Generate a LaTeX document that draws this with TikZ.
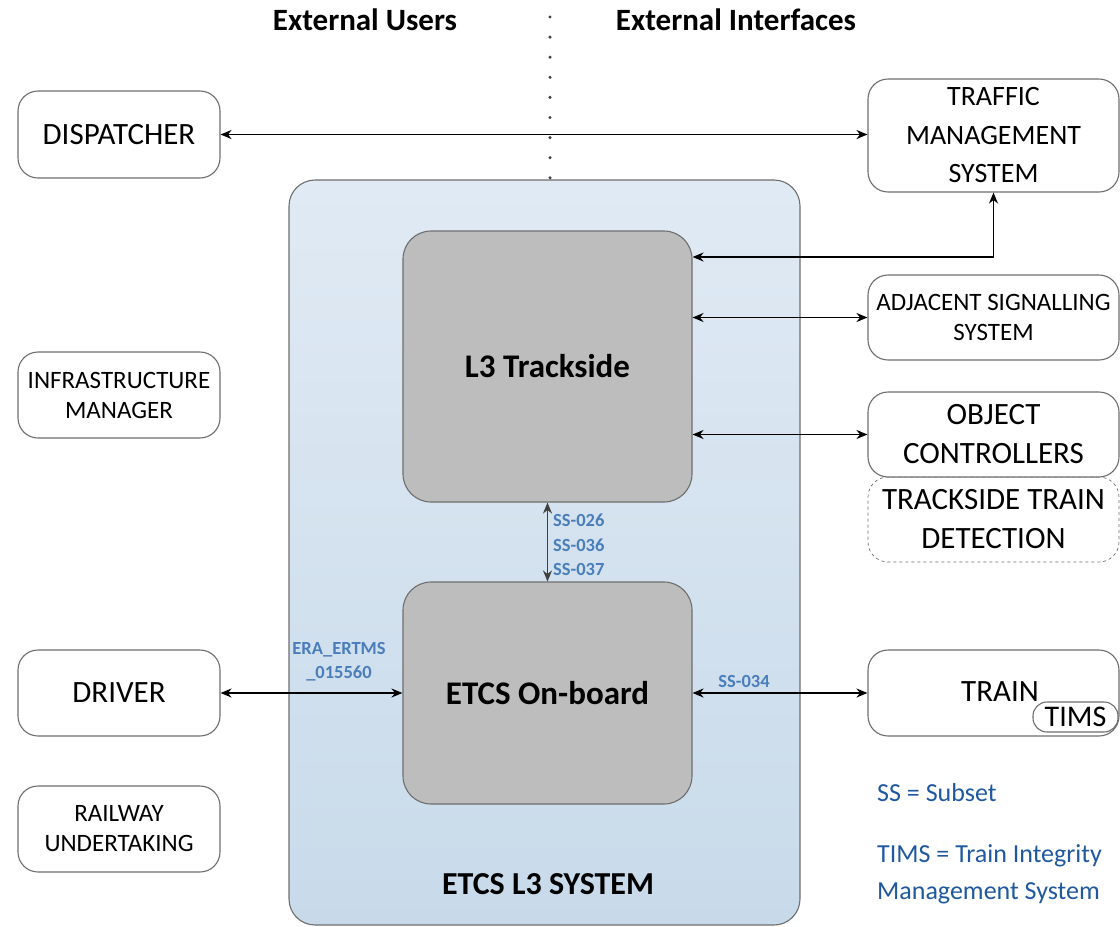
\documentclass[tikz,border=0pt]{standalone}
\usepackage{fontspec}
\setmainfont{Carlito}
\usetikzlibrary{arrows.meta}
\definecolor{lbl}{RGB}{74,126,187}
\definecolor{leg}{RGB}{31,88,158}
\definecolor{edge}{RGB}{110,110,110}
\definecolor{sysTop}{RGB}{224,234,244}
\definecolor{sysBot}{RGB}{200,218,234}
\definecolor{blk}{RGB}{189,189,189}
\tikzset{
  extbox/.style={draw=edge, line width=1.1pt, rounded corners=20pt, fill=white, align=center, inner sep=0pt},
  ddbox/.style={draw=edge, line width=0.7pt, dashed, rounded corners=20pt, align=center, inner sep=0pt},
  blkbox/.style={draw=edge, line width=1.1pt, rounded corners=28pt, fill=blk, align=center, inner sep=0pt, font=\fontsize{33}{38}\selectfont\bfseries},
  biarr/.style={line width=1.7pt, {Stealth[length=11pt,width=9pt]}-{Stealth[length=11pt,width=9pt]}},
  ssarr/.style={line width=1.6pt, draw=black!75, {Stealth[length=11pt,width=9pt]}-{Stealth[length=11pt,width=9pt]}},
  lbltext/.style={text=lbl, font=\fontsize{18.5}{24.5}\selectfont\bfseries, inner sep=0pt},
  legtext/.style={text=leg, font=\fontsize{26}{37}\selectfont, inner sep=0pt, anchor=west, align=left},
  big/.style={font=\fontsize{31}{38}\selectfont},
  mid/.style={font=\fontsize{25}{30}\selectfont},
  hdr/.style={font=\fontsize{31}{36}\selectfont\bfseries, inner sep=0pt}
}
\begin{document}
\begin{tikzpicture}[x=1pt,y=-1pt]
\useasboundingbox (0,0) rectangle (1120,927);
% headers
\node[hdr] (hu) at (365,20) {External Users};
\node[hdr] (hi) at (736,20) {External Interfaces};
% system box
\node[draw=edge, line width=1.1pt, rounded corners=26pt, top color=sysTop, bottom color=sysBot, minimum width=511pt, minimum height=745pt, inner sep=0pt] (sys) at (544.5,552.5) {};
\node[font=\fontsize{32}{38}\selectfont\bfseries, inner sep=0pt] (sysl) at (548,884) {ETCS L3 SYSTEM};
% dotted divider
\coordinate (dtop) at (550,17);
\draw[black!75, line width=3.4pt, line cap=round, dash pattern=on 0pt off 20.1pt] (dtop) -- (sys.north -| dtop);
% inner blocks
\node[blkbox, minimum width=289pt, minimum height=271pt] (trk) at (547.5,366.5) {L3 Trackside};
\node[blkbox, minimum width=289pt, minimum height=222pt] (obu) at (547.5,693) {ETCS On-board};
% left boxes
\node[extbox, big, minimum width=202pt, minimum height=87pt] (disp) at (119,134.5) {DISPATCHER};
\node[extbox, mid, minimum width=202pt, minimum height=86pt] (infra) at (119,395) {INFRASTRUCTURE\\MANAGER};
\node[extbox, big, minimum width=202pt, minimum height=86pt] (drv) at (119,693) {DRIVER};
\node[extbox, mid, minimum width=202pt, minimum height=86pt] (rail) at (119,829) {RAILWAY\\UNDERTAKING};
% right boxes
\node[extbox, font=\fontsize{28}{38.5}\selectfont, minimum width=251pt, minimum height=113pt] (tms) at (993.5,135.5) {TRAFFIC\\MANAGEMENT\\SYSTEM};
\node[extbox, mid, minimum width=251pt, minimum height=85pt] (adj) at (993.5,317.5) {ADJACENT SIGNALLING\\SYSTEM};
\node[ddbox, font=\fontsize{31}{39}\selectfont, minimum width=251pt, minimum height=85pt] (ttd) at (993.5,519.5) {TRACKSIDE TRAIN\\DETECTION};
\node[extbox, font=\fontsize{31}{39}\selectfont, minimum width=251pt, minimum height=85pt] (obj) at (993.5,434.5) {OBJECT\\CONTROLLERS};
\node[extbox, big, minimum width=251pt, minimum height=86pt] (train) at (993.5,693) {};
\node[big, inner sep=0pt] (traint) at (1000,692) {TRAIN};
\node[draw=edge, line width=1.1pt, rounded corners=14pt, fill=white, minimum width=85pt, minimum height=30pt, inner sep=0pt, font=\fontsize{30}{30}\selectfont] (tims) at (1075.5,717) {TIMS};
% connectors
\draw[biarr] (disp.east) -- (tms.west |- disp.east);
\draw[biarr] (trk.east |- 0,257) -| (tms.south);
\draw[biarr] (trk.east |- adj.west) -- (adj.west);
\draw[biarr] (trk.east |- obj.west) -- (obj.west);
\draw[ssarr] (trk.south) -- (obu.north);
\draw[biarr] (drv.east) -- (obu.west |- drv.east);
\draw[biarr] (obu.east |- train.west) -- (train.west);
% labels
\node[lbltext, anchor=west, align=left] (sslbl) at (553,545) {SS-026\\SS-036\\SS-037};
\node[lbltext, align=center] (eralbl) at (339,661.5) {ERA\_ERTMS\\\_015560};
\node[lbltext] (s34) at (744,681) {SS-034};
% legend
\node[legtext] (leg1) at (877,793) {SS = Subset};
\node[legtext] (leg2) at (877,874) {TIMS = Train Integrity\\Management System};
\end{tikzpicture}
\end{document}
